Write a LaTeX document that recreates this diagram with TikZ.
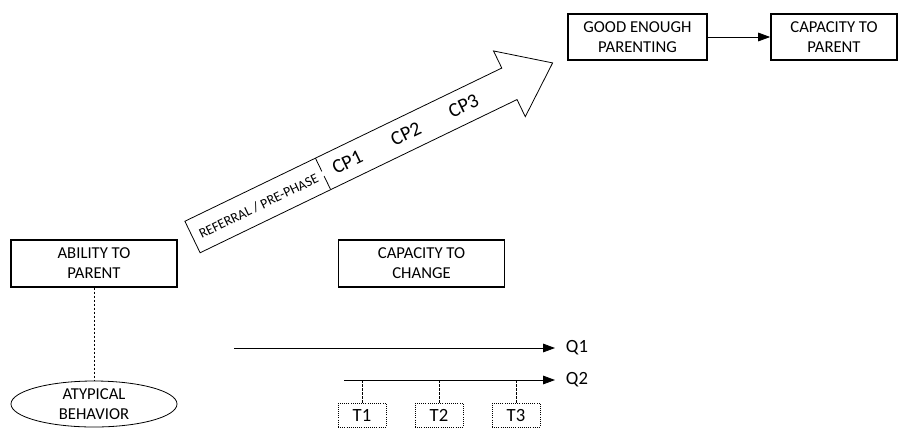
\documentclass[tikz,border=0pt]{standalone}
\usepackage{fontspec}
\setmainfont{Carlito}
\usepackage{tikz}
\usetikzlibrary{shapes,arrows.meta,positioning,calc}

\begin{document}
\begin{tikzpicture}[x=0.75pt, y=-0.75pt,
    box/.style={draw, line width=1.3pt, align=center, inner sep=0pt,
        minimum height=35pt, font=\fontsize{12.5}{15}\selectfont},
    oval/.style={draw, ellipse, line width=0.6pt, align=center, inner sep=0pt,
        minimum width=124.5pt, minimum height=34.5pt, font=\fontsize{12.5}{15}\selectfont},
    tbox/.style={draw, densely dotted, line width=0.6pt, inner sep=0pt,
        minimum width=36pt, minimum height=18pt, font=\fontsize{14}{15}\selectfont},
    qlabel/.style={anchor=west, inner xsep=8pt, inner ysep=0pt, font=\fontsize{14}{15}\selectfont},
    phase/.style={transform shape, inner sep=0pt, font=\fontsize{15}{16}\selectfont},
    flow/.style={-{Triangle[length=9pt,width=6.5pt]}, line width=0.6pt},
    link/.style={dash pattern=on 2pt off 1pt, line width=0.5pt}]
    \useasboundingbox (0,0) rectangle (898,429);

    % big phase arrow
    \begin{scope}[shift={(192.5,237)}, rotate=25.8]
        \draw[line width=0.6pt, fill=white] (0,-17.5) -- (352,-17.5) -- (352,-36.5) -- (400,0)
            -- (352,36.5) -- (352,17.5) -- (0,17.5) -- cycle;
        \draw[line width=0.6pt, dash pattern=on 11pt off 4pt] (145,-17.5) -- (145,17.5);
        \node[phase, font=\fontsize{10.4}{12}\selectfont] (referral) at (73,1) {REFERRAL / PRE-PHASE};
        \node[phase] (cp1) at (172,0) {CP1};
        \node[phase] (cp2) at (237,0) {CP2};
        \node[phase] (cp3) at (301,0) {CP3};
    \end{scope}

    % boxes
    \node[box, minimum width=104pt] (good) at (637.5,37) {GOOD ENOUGH\\PARENTING};
    \node[box, minimum width=94.5pt] (parent) at (834,37) {CAPACITY TO\\PARENT};
    \draw[flow] (good) -- (parent);

    \node[box, minimum width=124.5pt] (ability) at (94,263.5) {ABILITY TO\\PARENT};
    \node[oval] (atypical) at (94,404) {ATYPICAL\\BEHAVIOR};
    \draw[link] (ability) -- (atypical);

    \node[box, minimum width=124.5pt] (change) at (421.5,263.5) {CAPACITY TO\\CHANGE};

    % time lines
    \coordinate (q1start) at (234,348);
    \node[qlabel] (q1) at (555,348) {Q1};
    \draw[flow] (q1start) -- (q1);
    \coordinate (q2start) at (344,380);
    \node[qlabel] (q2) at (555,380) {Q2};
    \draw[flow] (q2start) -- (q2);

    \node[tbox] (t1) at (362,415) {T1};
    \node[tbox] (t2) at (439,415) {T2};
    \node[tbox] (t3) at (516,415) {T3};
    \draw[link] (t1 |- q2start) -- (t1);
    \draw[link] (t2 |- q2start) -- (t2);
    \draw[link] (t3 |- q2start) -- (t3);
\end{tikzpicture}
\end{document}
